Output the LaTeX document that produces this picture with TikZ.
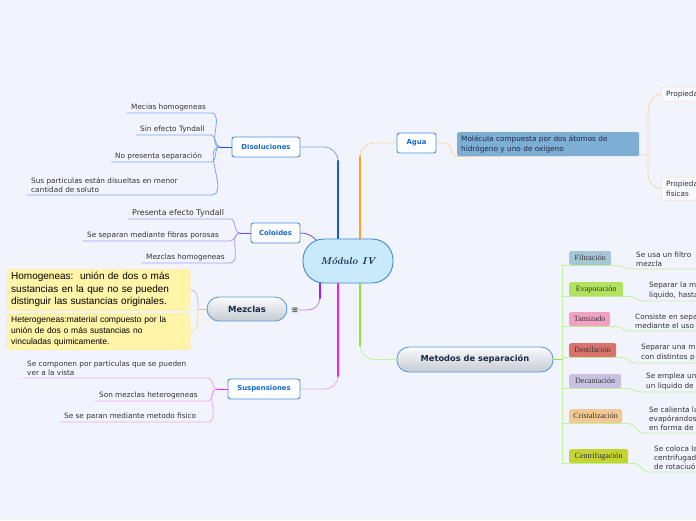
\documentclass[tikz,border=0pt]{standalone}
\usepackage{fontspec}
\newfontfamily\verd{DejaVu Sans}
\newfontfamily\arialf{Liberation Sans}
\newfontfamily\serifa{Liberation Serif}
\usetikzlibrary{calc,positioning,backgrounds}
\definecolor{bgcol}{HTML}{F2F4FD}
\definecolor{topicbd}{HTML}{3F8FE0}
\definecolor{topictx}{HTML}{1568D6}
\definecolor{centrefill}{HTML}{C8EAFB}
\definecolor{centrebd}{HTML}{3C8AD2}
\definecolor{pillbd}{HTML}{5B9ED6}
\definecolor{pilltop}{HTML}{FAFBFC}
\definecolor{pillbot}{HTML}{C6CBD3}
\definecolor{navy}{HTML}{1B2A4A}
\definecolor{leaftx}{HTML}{333333}
\definecolor{disoC}{HTML}{1E52F0}
\definecolor{disoLc}{HTML}{7FA3F5}
\definecolor{colC}{HTML}{6C46F0}
\definecolor{colLc}{HTML}{A79BF6}
\definecolor{mezC}{HTML}{A21CF6}
\definecolor{mezLc}{HTML}{C77AF8}
\definecolor{suspC}{HTML}{FF1CE0}
\definecolor{suspLc}{HTML}{F6A4EF}
\definecolor{aguaC}{HTML}{FFA020}
\definecolor{aguaLc}{HTML}{FFD3A3}
\definecolor{metC}{HTML}{8FE52E}
\definecolor{metLc}{HTML}{BFF39C}
\definecolor{noteC}{HTML}{FFF4A8}
\definecolor{noteBd}{HTML}{F7EAA4}
\definecolor{noteV}{HTML}{DDB0F2}
\definecolor{noteY}{HTML}{F2E27A}
\definecolor{noteO}{HTML}{E8C08A}
\definecolor{aguaBox}{HTML}{7FAED4}
\definecolor{filC}{HTML}{A6C6D6}
\definecolor{evaC}{HTML}{B3E25E}
\definecolor{tamC}{HTML}{F1A2C2}
\definecolor{desC}{HTML}{D9736B}
\definecolor{decC}{HTML}{C9C1E2}
\definecolor{criC}{HTML}{F2C992}
\definecolor{cenC}{HTML}{C3D433}
\begin{document}
\begin{tikzpicture}[x=1pt,y=-1pt]
		\tikzstyle{every path}=[line cap=round]
		\tikzstyle{topic}=[draw=topicbd, line width=0.9pt, fill=white, rounded corners=2.5pt,
		                   minimum height=20pt, inner sep=0pt, text=topictx,
		                   font=\verd\bfseries\fontsize{6.9}{8}\selectfont]
		\tikzstyle{pill}=[draw=pillbd, line width=0.9pt, top color=pilltop, bottom color=pillbot,
		                  rounded corners=12pt, inner sep=0pt, text=navy]
		\tikzstyle{leaf}=[inner xsep=0pt, inner ysep=2pt, align=left, text=leaftx,
		                  font=\verd\fontsize{7.3}{9.3}\selectfont]
		\tikzstyle{note}=[fill=noteC, draw=noteBd, rounded corners=3pt, align=left,
		                  anchor=north west, text width=175pt, inner xsep=4pt, text=black]
		\tikzstyle{method}=[rounded corners=1.5pt, minimum height=14pt, inner sep=0pt,
		                    anchor=north west, text=leaftx, font=\serifa\fontsize{8}{8}\selectfont]
		\tikzstyle{thinL}=[line width=0.8pt]
		\tikzstyle{trunk}=[line width=2.4pt]

\useasboundingbox (0,0) rectangle (696,520);
\begin{scope}[on background layer]
  \fill[bgcol] (0,0) rectangle (696,520);
\end{scope}

% central topic and main topics
\node[draw=centrebd, fill=centrefill, line width=0.9pt, rounded corners=21pt,
      minimum width=90pt, minimum height=44pt, text=navy,
      font=\bfseries\itshape\fontsize{10}{11}\selectfont] (modulo) at (348,261) {Módulo IV};
\node[topic, minimum width=68pt] (diso) at (266,147) {Disoluciones};
\node[topic, minimum width=49pt] (coloides) at (275.5,233) {Coloides};
\node[topic, minimum width=72pt] (susp) at (264,389) {Suspensiones};
\node[topic, minimum width=39pt] (agua) at (416.5,143) {Agua};
\node[pill, minimum width=80pt, minimum height=24pt,
      font=\verd\bfseries\fontsize{8.5}{10}\selectfont] (mezclas) at (247,309) {Mezclas};
\node[pill, minimum width=156pt, minimum height=25pt,
      font=\verd\bfseries\fontsize{8.3}{10}\selectfont] (metodos) at (475,359.5) {Metodos de separación};
\node[fill=black!12, inner sep=1pt, text=black!75,
      font=\verd\bfseries\fontsize{7.5}{7.5}\selectfont] (mezIcon) at (295,310) {≡};

\coordinate (xDiso) at (338,0);
\coordinate (xAgua) at (360,0);
\coordinate (xMez) at (320,0);

\begin{scope}[on background layer]
  % trunks
  \draw[thinL, disoLc] (diso.east) -- ($(diso.east -| xDiso)+(-14,0)$) to[out=0,in=90] ($(diso.east -| xDiso)+(0,14)$);
  \draw[trunk, disoC] ($(diso.east -| xDiso)+(0,14)$) -- (modulo.north -| xDiso);
  \draw[thinL, aguaLc] (agua.west) -- ($(agua.west -| xAgua)+(14,0)$) to[out=180,in=90] ($(agua.west -| xAgua)+(0,14)$);
  \draw[trunk, aguaC] ($(agua.west -| xAgua)+(0,14)$) -- (modulo.north -| xAgua);
  \draw[thinL, colC] (coloides.east) to[out=0,in=135] ($(modulo.north west)+(22,10)$);
  \draw[thinL, mezLc] (mezIcon.east) -- ($(mezIcon.east -| xMez)+(-12,0)$) to[out=0,in=-90] ($(mezIcon.east -| xMez)+(0,-12)$);
  \draw[trunk, mezC] ($(mezIcon.east -| xMez)+(0,-12)$) -- (modulo.south -| xMez);
  \draw[thinL, suspLc] (susp.east) -- ($(susp.east -| xDiso)+(-13,0)$) to[out=0,in=-90] ($(susp.east -| xDiso)+(0,-13)$);
  \draw[trunk, suspC] ($(susp.east -| xDiso)+(0,-13)$) -- (modulo.south -| xDiso);
  \draw[thinL, metLc] (metodos.west) -- ($(metodos.west -| xAgua)+(14,0)$) to[out=180,in=-90] ($(metodos.west -| xAgua)+(0,-14)$);
  \draw[trunk, metC] ($(metodos.west -| xAgua)+(0,-14)$) -- (modulo.south -| xAgua);
\end{scope}

% Disoluciones
\coordinate (disoJ) at (220,147);
\coordinate (disoE) at (211,0);
\foreach \xs/\yy/\txt [count=\i] in {131/113/{Mecias homogeneas},
    140/135/{Sin efecto Tyndall}, 115/162/{No presenta separación},
    31/195/{Sus particulas están disueltas en menor\\cantidad de soluto}}
{
  \node[leaf, anchor=south west] (disoLeaf\i) at (\xs,\yy) {\txt};
  \begin{scope}[on background layer]
    \draw[thinL, disoLc] ($(disoLeaf\i.south west)+(-4,0)$) -- (disoLeaf\i.south west -| disoE) to[out=0,in=180] (disoJ);
  \end{scope}
}
\draw[thinL, disoC] (disoJ) -- (diso.west);

% Coloides
\coordinate (colJ) at (240,233);
\coordinate (colE) at (230,0);
\foreach \xs/\yy/\fs/\txt [count=\i] in {132/219/7.9/{Presenta efecto Tyndall},
    87/241/7.3/{Se separan mediante fibras porosas}, 146/263/7.3/{Mezclas homogeneas}}
{
  \node[leaf, anchor=south west, font=\verd\fontsize{\fs}{9.3}\selectfont] (colLeaf\i) at (\xs,\yy) {\txt};
  \begin{scope}[on background layer]
    \draw[thinL, colLc] ($(colLeaf\i.south west)+(-4,0)$) -- (colLeaf\i.south west -| colE) to[out=0,in=180] (colJ);
  \end{scope}
}
\draw[thinL, colC] (colJ) -- (coloides.west);

% Suspensiones
\coordinate (suspJ) at (217,389);
\coordinate (suspE) at (208,0);
\foreach \xs/\yy/\txt [count=\i] in {27/378/{Se componen por particulas que se pueden\\ver a la vista},
    99/401/{Son mezclas heterogeneas}, 64/422/{Se se paran mediante metodo fisico}}
{
  \node[leaf, anchor=south west] (suspLeaf\i) at (\xs,\yy) {\txt};
  \begin{scope}[on background layer]
    \draw[thinL, suspLc] ($(suspLeaf\i.south west)+(-4,0)$) -- (suspLeaf\i.south west -| suspE) to[out=0,in=180] (suspJ);
  \end{scope}
}
\draw[thinL, suspC] (suspJ) -- (susp.west);

% Mezclas
\node[note, minimum height=40pt, font=\arialf\fontsize{10}{12.5}\selectfont] (homog) at (7,269)
  {Homogeneas:\ \ unión de dos o más\\sustancias en la que no se pueden\\distinguir las sustancias originales.};
\node[note, minimum height=36pt, font=\arialf\fontsize{8.5}{11}\selectfont] (heterog) at (7,313)
  {Heterogeneas:material compuesto por la\\unión de dos o más sustancias no\\vinculadas quimicamente.};
\coordinate (mezJ) at (198,309);
\begin{scope}[on background layer]
  \draw[thinL, noteV] (homog.east) to[out=0,in=90] (mezJ);
  \draw[thinL, noteY] (heterog.east) to[out=0,in=-90] (mezJ);
  \draw[thinL, noteO] (mezJ) -- (mezclas.west);
\end{scope}

% Agua
\node[fill=aguaBox, rounded corners=1.5pt, anchor=north west, minimum height=22pt,
      inner xsep=4pt, text width=174pt, align=left, text=navy,
      font=\verd\fontsize{7.3}{10}\selectfont] (aguaDef) at (457,132)
  {Molécula compuesta por dos átomos de\\hidrógeno y uno de oxígeno};
\node[draw=aguaLc, fill=white!50!bgcol, rounded corners=2pt, anchor=north west,
      minimum height=14pt, inner xsep=5pt, inner ysep=1pt, align=left, text=leaftx,
      font=\verd\fontsize{7.3}{9.3}\selectfont] (prop1) at (661,87) {Propiedades};
\node[draw=aguaLc, fill=white!50!bgcol, rounded corners=2pt, anchor=north west,
      minimum height=23pt, inner xsep=5pt, inner ysep=1pt, align=left, text=leaftx,
      font=\verd\fontsize{7.3}{9.3}\selectfont] (prop2) at (661,177) {Propiedades\\fisicas};
\coordinate (propJ) at (648,155);
\begin{scope}[on background layer]
  \draw[thinL, aguaLc] (agua.east) -- ($(agua.east)+(9,0)$) to[out=0,in=180] (aguaDef.south west) -- (propJ);
  \draw[thinL, aguaLc] (prop1.west) to[out=180,in=90] ($(propJ)+(0,-40)$) -- ($(propJ)+(0,18)$) to[out=-90,in=180] (prop2.west);
\end{scope}

% Metodos de separacion
\coordinate (metV) at (562,0);
\coordinate (edgeR) at (705,0);
\foreach \name/\fc/\lw/\yl/\xt/\yt/\txt [count=\i] in {
    Filtración/filC/42/251/636/269/{Se usa un filtro\\mezcla},
    Evaporación/evaC/54/282/649/301/{Separar la m\\liquido, hasta},
    Tamizado/tamC/41/312/635/331/{Consiste en sepa\\mediante el uso},
    Destilación/desC/47/343/641/363/{Separar una m\\con distintos p},
    Decantación/decC/52/374/646/392/{Se emplea un\\un liquido de c},
    Cristalización/criC/53/409/649/433/{Se calienta la\\evapórandos\\en forma de},
    Centrifugación/cenC/59/449/654/472/{Se coloca la\\centrifugad\\de rotaciuó}}
{
  \node[method, fill=\fc, minimum width=\lw] (met\i) at (569,\yl) {\name};
  \node[leaf, anchor=south west] (metText\i) at (\xt,\yt) {\txt};
  \begin{scope}[on background layer]
    \draw[thinL, metLc] (met\i.south west -| metV) -- ($(met\i.south east)+(6,0)$) to[out=0,in=180] ($(metText\i.south west)+(-6,0)$) -- (metText\i.south west -| edgeR);
  \end{scope}
}
\begin{scope}[on background layer]
  \draw[thinL, metLc] (met1.south west -| metV) -- (met7.south west -| metV);
  \draw[thinL, metC] (metodos.east) -- (metodos.east -| metV);
\end{scope}

\end{tikzpicture}
\end{document}
